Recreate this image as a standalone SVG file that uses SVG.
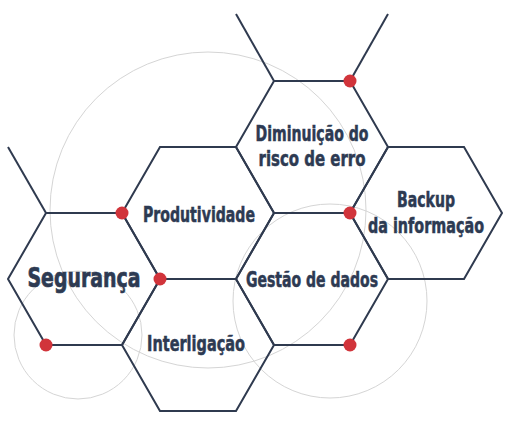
<svg xmlns="http://www.w3.org/2000/svg" width="510" height="426" viewBox="0 0 510 426">
<style>
.bg{fill:none;stroke:#d5d5d5;stroke-width:1}
.hex{fill:none;stroke:#2f3a4f;stroke-width:2;stroke-linejoin:miter}
.ln{fill:none;stroke:#2f3a4f;stroke-width:2}
.dot{fill:#d1343b}
.t{font-family:"DejaVu Sans Condensed","DejaVu Sans",sans-serif;font-weight:bold;font-size:20.5px;fill:#2d3a52;stroke:#2d3a52;stroke-width:0.5;text-anchor:middle}
.big{font-size:27px;stroke-width:0.7}
</style>
<rect width="510" height="426" fill="#ffffff"/>
<g id="circles">
<circle class="bg" cx="208" cy="210" r="158"/>
<circle class="bg" cx="78" cy="335" r="64"/>
<circle class="bg" cx="330" cy="301" r="97"/>
</g>
<g id="connectors">
<line class="ln" x1="8" y1="147" x2="46" y2="213"/>
<line class="ln" x1="236" y1="14" x2="274" y2="81"/>
<line class="ln" x1="388" y1="14" x2="350" y2="81"/>
</g>
<g id="seguranca">
<polygon class="hex" points="8,279 46,213 122,213 160,279 122,345 46,345"/>
<text class="t big" x="84" y="287" textLength="113" lengthAdjust="spacingAndGlyphs">Segurança</text>
</g>
<g id="produtividade">
<polygon class="hex" points="122,213 160,147 236,147 274,213 236,279 160,279"/>
<text class="t" x="199" y="221.5" textLength="112" lengthAdjust="spacingAndGlyphs">Produtividade</text>
</g>
<g id="interligacao">
<polygon class="hex" points="122,345 160,279 236,279 274,345 236,411 160,411"/>
<text class="t" x="196" y="351" textLength="98" lengthAdjust="spacingAndGlyphs">Interligação</text>
</g>
<g id="diminuicao">
<polygon class="hex" points="236,147 274,81 350,81 388,147 350,213 274,213"/>
<text class="t" x="312" y="141" textLength="113" lengthAdjust="spacingAndGlyphs">Diminuição do</text>
<text class="t" x="312" y="166" textLength="107" lengthAdjust="spacingAndGlyphs">risco de erro</text>
</g>
<g id="gestao">
<polygon class="hex" points="236,279 274,213 350,213 388,279 350,345 274,345"/>
<text class="t" x="312" y="286.5" textLength="132" lengthAdjust="spacingAndGlyphs">Gestão de dados</text>
</g>
<g id="backup">
<polygon class="hex" points="350,213 388,147 464,147 502,213 464,279 388,279"/>
<text class="t" x="426" y="207" textLength="58" lengthAdjust="spacingAndGlyphs">Backup</text>
<text class="t" x="426" y="233" textLength="116" lengthAdjust="spacingAndGlyphs">da informação</text>
</g>
<g id="dots">
<circle class="dot" cx="350" cy="81" r="6.5"/>
<circle class="dot" cx="122" cy="213" r="6.5"/>
<circle class="dot" cx="160" cy="279" r="6.5"/>
<circle class="dot" cx="350" cy="213" r="6.5"/>
<circle class="dot" cx="46" cy="345" r="6.5"/>
<circle class="dot" cx="350" cy="345" r="6.5"/>
</g>
</svg>
